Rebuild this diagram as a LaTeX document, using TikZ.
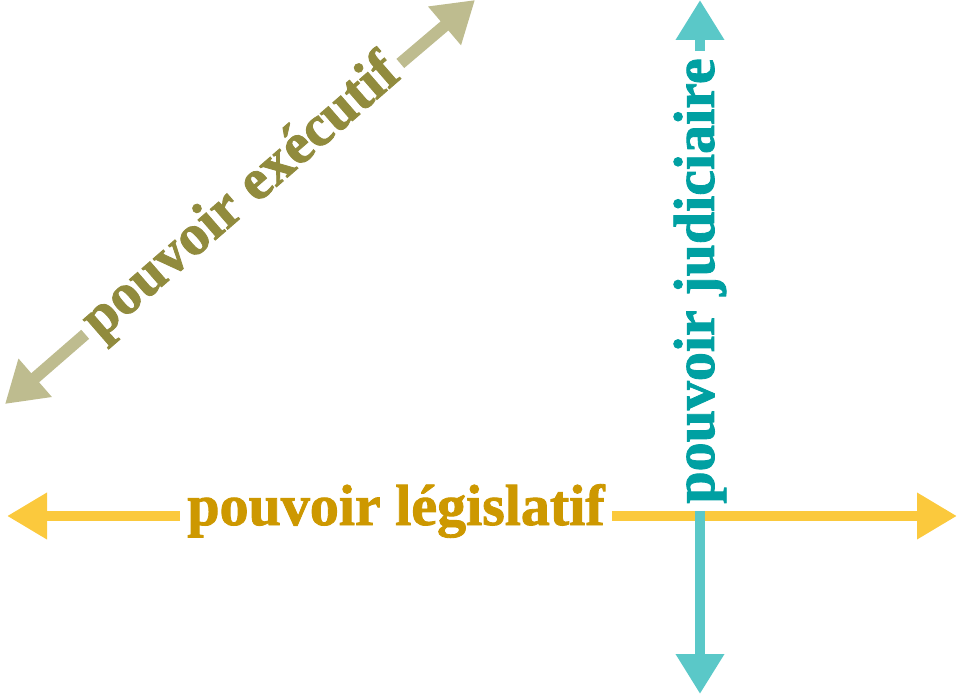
\documentclass[tikz,border=0pt]{standalone}
\usepackage{fontspec}
\setmainfont{Liberation Serif}[BoldFeatures={FakeBold=1.5}]
\usepackage{xcolor}
\usepackage{tikz}
\usetikzlibrary{arrows.meta}
\definecolor{legisline}{RGB}{251,201,61}
\definecolor{legistext}{RGB}{205,152,0}
\definecolor{judline}{RGB}{90,200,200}
\definecolor{judtext}{RGB}{0,160,162}
\definecolor{execline}{RGB}{190,188,143}
\definecolor{exectext}{RGB}{145,139,61}

\begin{document}
\begin{tikzpicture}[x=1pt, y=-1pt,
    power/.style={font=\fontsize{58}{58}\selectfont\bfseries, inner xsep=7pt,
      inner ysep=2pt},
    twoway/.style={-{Triangle[length=40pt, width=44pt]}, line width=10pt}]
  \useasboundingbox (0,0) rectangle (970,695);
  % executive
  \coordinate (execSW) at (5,404);
  \coordinate (execNE) at (475,0);
  \node[power, text=exectext, rotate=41] (exec) at (242,198) {pouvoir exécutif};
  \draw[twoway, execline, line width=12pt,
    -{Triangle[length=40pt, width=48pt]}] (exec) -- (execSW);
  \draw[twoway, execline, line width=12pt,
    -{Triangle[length=40pt, width=48pt]}] (exec) -- (execNE);
  % legislative
  \coordinate (legisW) at (7,516);
  \coordinate (legisE) at (957,516);
  \node[power, text=legistext] (legis) at (396,511) {pouvoir législatif};
  \draw[twoway, legisline] (legis.west |- legisW) -- (legisW);
  \draw[twoway, legisline] (legis.east |- legisE) -- (legisE);
  % judiciary
  \coordinate (judN) at (700,0);
  \coordinate (judS) at (700,694);
  \node[power, text=judtext, rotate=90] (jud) at (700,281) {pouvoir judiciaire};
  \draw[twoway, judline, -{Triangle[length=40pt, width=46pt]}] (jud) -- (judN);
  \draw[twoway, judline, -{Triangle[length=40pt, width=46pt]}] (jud) -- (judS);
\end{tikzpicture}
\end{document}
